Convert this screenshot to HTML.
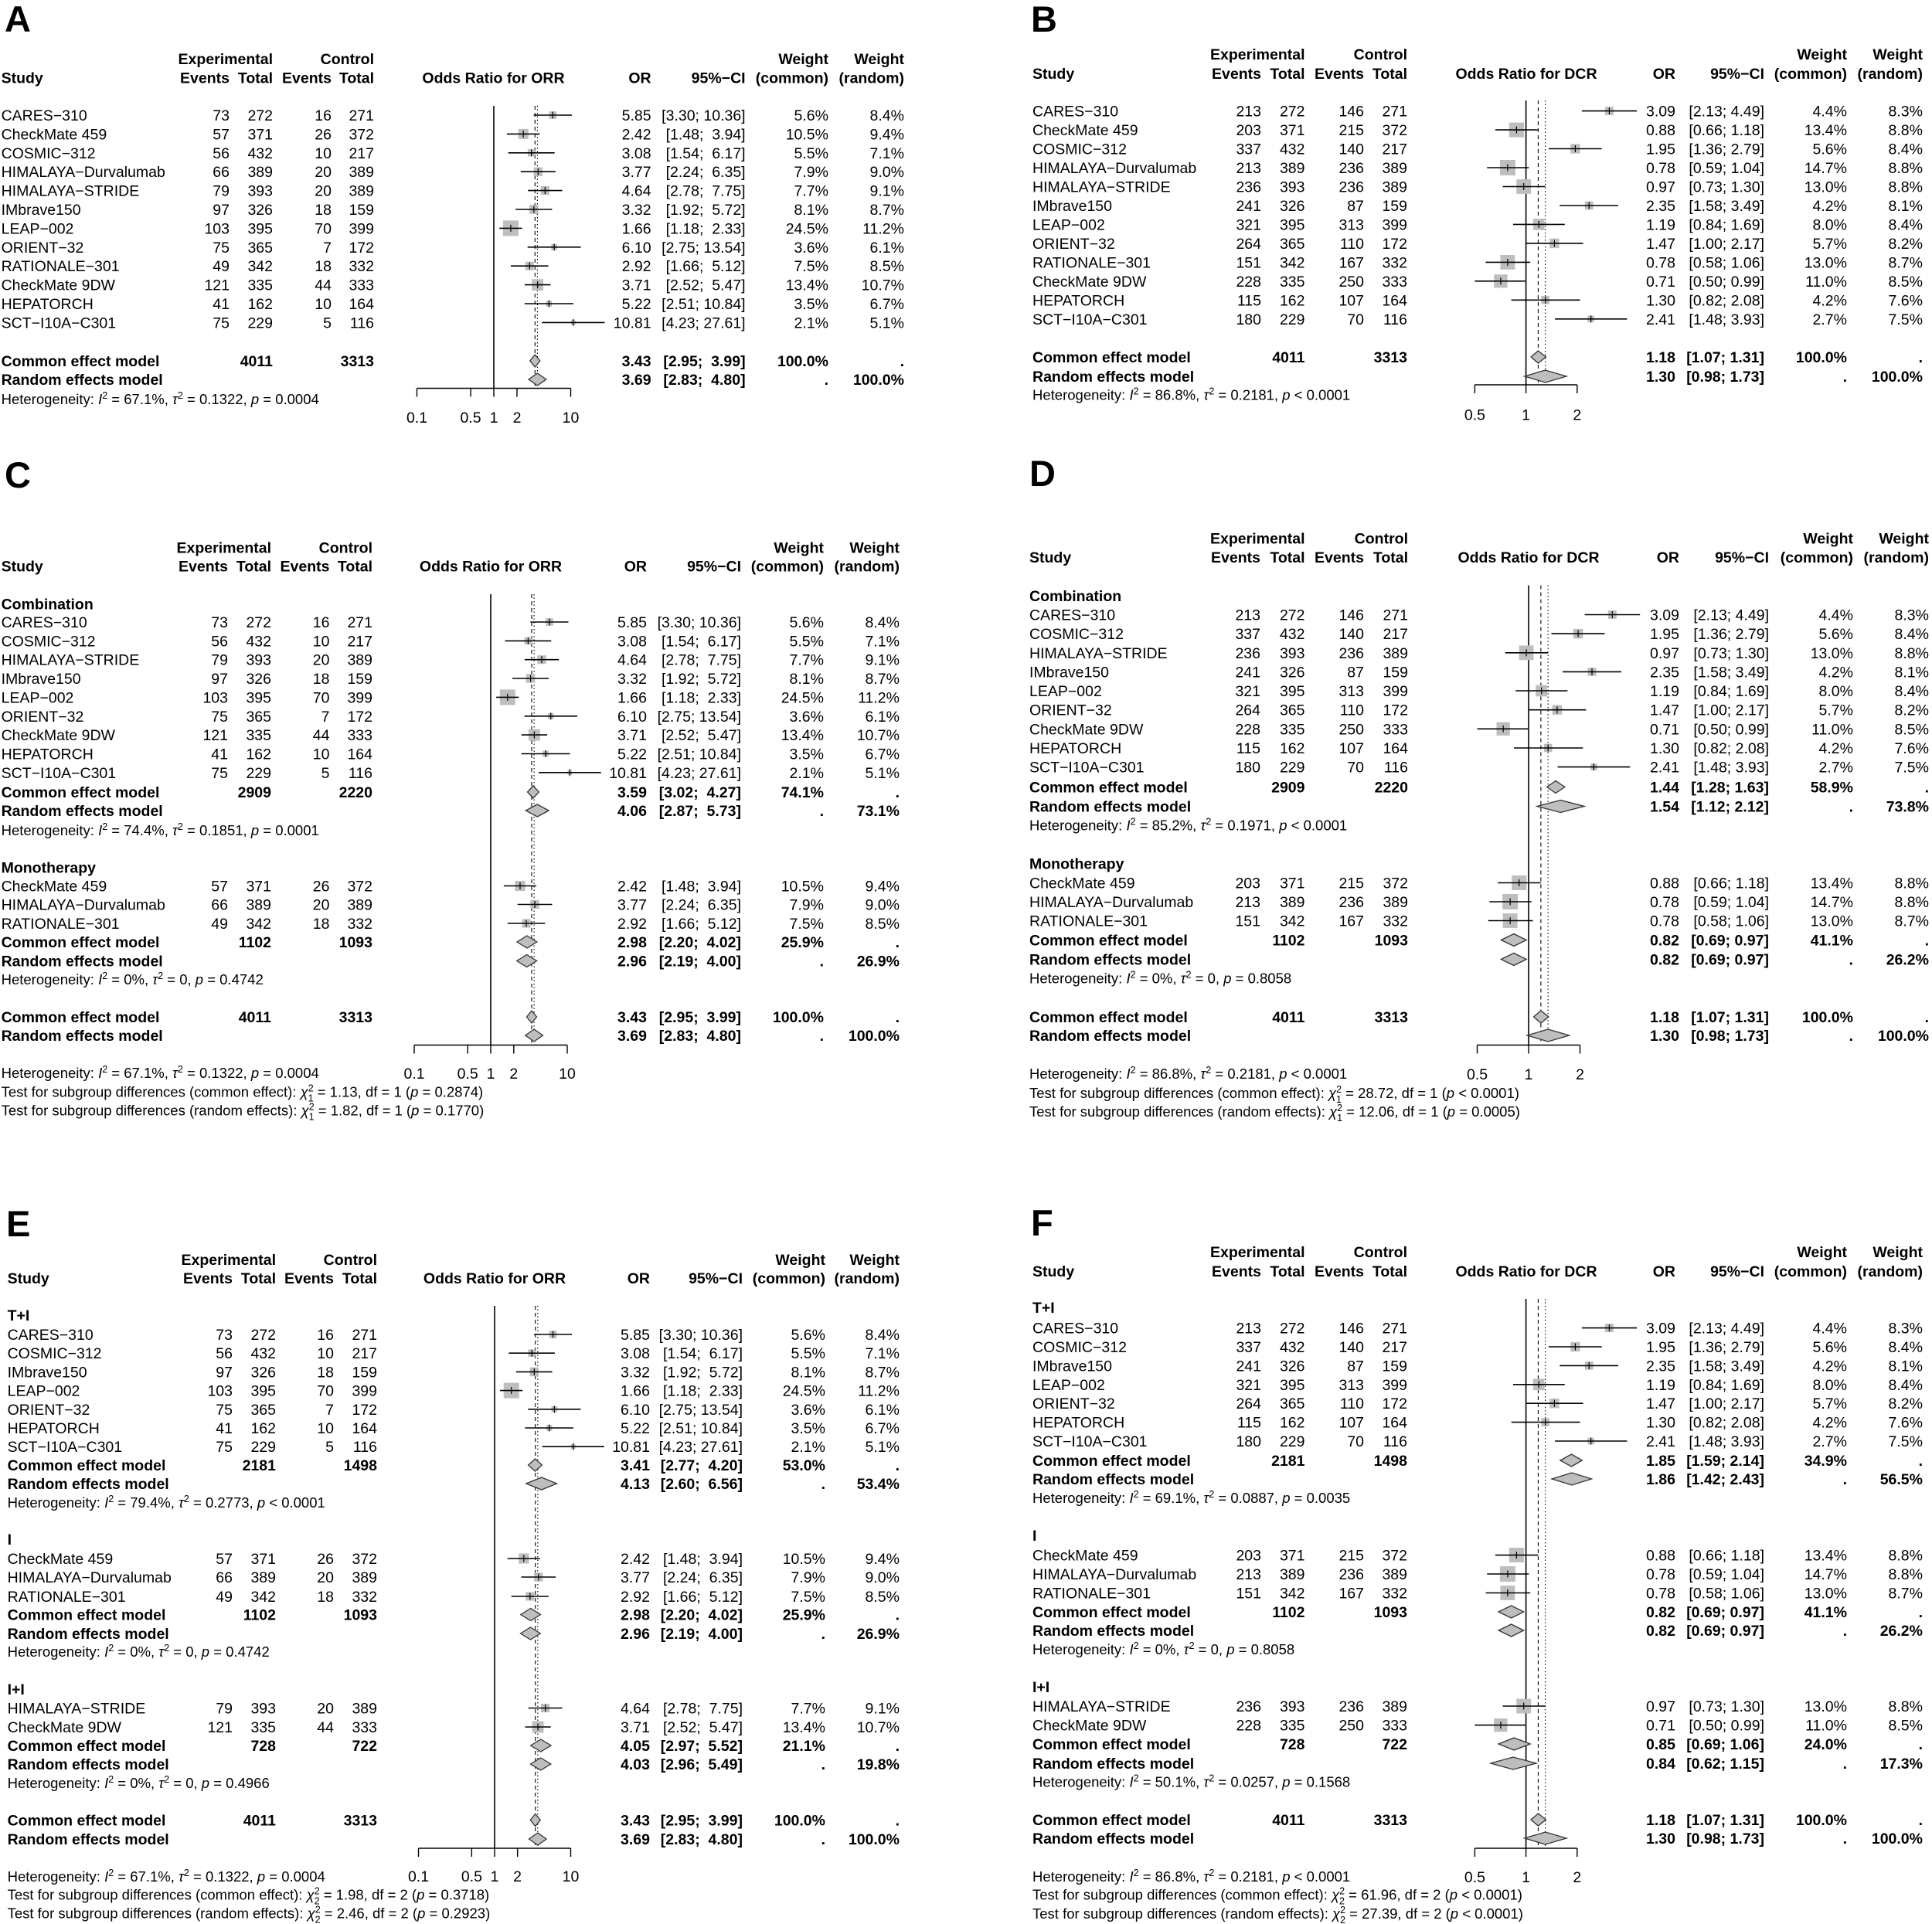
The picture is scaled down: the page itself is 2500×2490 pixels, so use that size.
<!DOCTYPE html>
<html><head><meta charset="utf-8"><style>
html,body{margin:0;padding:0;background:#fff}
svg{display:block}
svg text{font-family:"Liberation Sans",Arial,sans-serif;font-size:19.5px;white-space:pre;fill:#000}
.r{text-anchor:end}.m{text-anchor:middle}.b{font-weight:bold}.s{font-size:18.5px}.L{font-size:47px;font-weight:bold}
.s tspan[font-size]{font-size:12.5px}
</style></head><body>
<svg id="sv" xmlns="http://www.w3.org/2000/svg" width="2500" height="2490" viewBox="0 0 2500 2490">
<rect width="2500" height="2490" fill="#fff"/>
<g id="gfx"></g>

<!-- ================= A ================= -->
<text class="L" x="6" y="41">A</text>
<text class="b r" y="83"><tspan x="353">Experimental</tspan><tspan x="484">Control</tspan><tspan x="1072">Weight</tspan><tspan x="1170">Weight</tspan></text>
<text class="b" x="1.6" y="107.5">Study</text>
<text class="b r" y="107.5"><tspan x="297">Events</tspan><tspan x="353">Total</tspan><tspan x="429">Events</tspan><tspan x="484">Total</tspan><tspan x="842.6">OR</tspan><tspan x="964.6">95%−CI</tspan><tspan x="1072">(common)</tspan><tspan x="1170">(random)</tspan></text>
<text class="b m" x="638.5" y="107.5">Odds Ratio for ORR</text>
<text x="1.6" y="156">CARES−310</text><text class="r" y="156"><tspan x="297">73</tspan><tspan x="353">272</tspan><tspan x="429">16</tspan><tspan x="484">271</tspan><tspan x="842.6">5.85</tspan><tspan x="964.6">[3.30; 10.36]</tspan><tspan x="1072">5.6%</tspan><tspan x="1170">8.4%</tspan></text>
<text x="1.6" y="180.4">CheckMate 459</text><text class="r" y="180.4"><tspan x="297">57</tspan><tspan x="353">371</tspan><tspan x="429">26</tspan><tspan x="484">372</tspan><tspan x="842.6">2.42</tspan><tspan x="964.6">[1.48;  3.94]</tspan><tspan x="1072">10.5%</tspan><tspan x="1170">9.4%</tspan></text>
<text x="1.6" y="204.8">COSMIC−312</text><text class="r" y="204.8"><tspan x="297">56</tspan><tspan x="353">432</tspan><tspan x="429">10</tspan><tspan x="484">217</tspan><tspan x="842.6">3.08</tspan><tspan x="964.6">[1.54;  6.17]</tspan><tspan x="1072">5.5%</tspan><tspan x="1170">7.1%</tspan></text>
<text x="1.6" y="229.2">HIMALAYA−Durvalumab</text><text class="r" y="229.2"><tspan x="297">66</tspan><tspan x="353">389</tspan><tspan x="429">20</tspan><tspan x="484">389</tspan><tspan x="842.6">3.77</tspan><tspan x="964.6">[2.24;  6.35]</tspan><tspan x="1072">7.9%</tspan><tspan x="1170">9.0%</tspan></text>
<text x="1.6" y="253.6">HIMALAYA−STRIDE</text><text class="r" y="253.6"><tspan x="297">79</tspan><tspan x="353">393</tspan><tspan x="429">20</tspan><tspan x="484">389</tspan><tspan x="842.6">4.64</tspan><tspan x="964.6">[2.78;  7.75]</tspan><tspan x="1072">7.7%</tspan><tspan x="1170">9.1%</tspan></text>
<text x="1.6" y="278">IMbrave150</text><text class="r" y="278"><tspan x="297">97</tspan><tspan x="353">326</tspan><tspan x="429">18</tspan><tspan x="484">159</tspan><tspan x="842.6">3.32</tspan><tspan x="964.6">[1.92;  5.72]</tspan><tspan x="1072">8.1%</tspan><tspan x="1170">8.7%</tspan></text>
<text x="1.6" y="302.4">LEAP−002</text><text class="r" y="302.4"><tspan x="297">103</tspan><tspan x="353">395</tspan><tspan x="429">70</tspan><tspan x="484">399</tspan><tspan x="842.6">1.66</tspan><tspan x="964.6">[1.18;  2.33]</tspan><tspan x="1072">24.5%</tspan><tspan x="1170">11.2%</tspan></text>
<text x="1.6" y="326.8">ORIENT−32</text><text class="r" y="326.8"><tspan x="297">75</tspan><tspan x="353">365</tspan><tspan x="429">7</tspan><tspan x="484">172</tspan><tspan x="842.6">6.10</tspan><tspan x="964.6">[2.75; 13.54]</tspan><tspan x="1072">3.6%</tspan><tspan x="1170">6.1%</tspan></text>
<text x="1.6" y="351.2">RATIONALE−301</text><text class="r" y="351.2"><tspan x="297">49</tspan><tspan x="353">342</tspan><tspan x="429">18</tspan><tspan x="484">332</tspan><tspan x="842.6">2.92</tspan><tspan x="964.6">[1.66;  5.12]</tspan><tspan x="1072">7.5%</tspan><tspan x="1170">8.5%</tspan></text>
<text x="1.6" y="375.6">CheckMate 9DW</text><text class="r" y="375.6"><tspan x="297">121</tspan><tspan x="353">335</tspan><tspan x="429">44</tspan><tspan x="484">333</tspan><tspan x="842.6">3.71</tspan><tspan x="964.6">[2.52;  5.47]</tspan><tspan x="1072">13.4%</tspan><tspan x="1170">10.7%</tspan></text>
<text x="1.6" y="400">HEPATORCH</text><text class="r" y="400"><tspan x="297">41</tspan><tspan x="353">162</tspan><tspan x="429">10</tspan><tspan x="484">164</tspan><tspan x="842.6">5.22</tspan><tspan x="964.6">[2.51; 10.84]</tspan><tspan x="1072">3.5%</tspan><tspan x="1170">6.7%</tspan></text>
<text x="1.6" y="424.4">SCT−I10A−C301</text><text class="r" y="424.4"><tspan x="297">75</tspan><tspan x="353">229</tspan><tspan x="429">5</tspan><tspan x="484">116</tspan><tspan x="842.6">10.81</tspan><tspan x="964.6">[4.23; 27.61]</tspan><tspan x="1072">2.1%</tspan><tspan x="1170">5.1%</tspan></text>
<text class="b" x="1.6" y="474">Common effect model</text><text class="b r" y="474"><tspan x="353">4011</tspan><tspan x="484">3313</tspan><tspan x="842.6">3.43</tspan><tspan x="964.6">[2.95;  3.99]</tspan><tspan x="1072">100.0%</tspan><tspan x="1170">.</tspan></text>
<text class="b" x="1.6" y="498">Random effects model</text><text class="b r" y="498"><tspan x="842.6">3.69</tspan><tspan x="964.6">[2.83;  4.80]</tspan><tspan x="1072">.</tspan><tspan x="1170">100.0%</tspan></text>
<text class="s" x="1.6" y="523">Heterogeneity: <tspan font-style="italic">I</tspan><tspan dy="-7" font-size="11">2</tspan><tspan dy="7"> = 67.1%, </tspan><tspan font-style="italic">τ</tspan><tspan dy="-7" font-size="11">2</tspan><tspan dy="7"> = 0.1322, </tspan><tspan font-style="italic">p</tspan> = 0.0004</text>
<text class="m" y="547"><tspan x="539.5">0.1</tspan><tspan x="609">0.5</tspan><tspan x="639">1</tspan><tspan x="669">2</tspan><tspan x="738.5">10</tspan></text>

<!-- ================= B ================= -->
<text class="L" x="1334" y="41">B</text>
<text class="b r" y="77"><tspan x="1688.5">Experimental</tspan><tspan x="1821">Control</tspan><tspan x="2390">Weight</tspan><tspan x="2488">Weight</tspan></text>
<text class="b" x="1336" y="102">Study</text>
<text class="b r" y="102"><tspan x="1632">Events</tspan><tspan x="1688.5">Total</tspan><tspan x="1765">Events</tspan><tspan x="1821">Total</tspan><tspan x="2168">OR</tspan><tspan x="2283">95%−CI</tspan><tspan x="2390">(common)</tspan><tspan x="2488">(random)</tspan></text>
<text class="b m" x="1975" y="102">Odds Ratio for DCR</text>
<text x="1336" y="150.6">CARES−310</text><text class="r" y="150.6"><tspan x="1632">213</tspan><tspan x="1688.5">272</tspan><tspan x="1765">146</tspan><tspan x="1821">271</tspan><tspan x="2168">3.09</tspan><tspan x="2283">[2.13; 4.49]</tspan><tspan x="2390">4.4%</tspan><tspan x="2488">8.3%</tspan></text>
<text x="1336" y="175.1">CheckMate 459</text><text class="r" y="175.1"><tspan x="1632">203</tspan><tspan x="1688.5">371</tspan><tspan x="1765">215</tspan><tspan x="1821">372</tspan><tspan x="2168">0.88</tspan><tspan x="2283">[0.66; 1.18]</tspan><tspan x="2390">13.4%</tspan><tspan x="2488">8.8%</tspan></text>
<text x="1336" y="199.5">COSMIC−312</text><text class="r" y="199.5"><tspan x="1632">337</tspan><tspan x="1688.5">432</tspan><tspan x="1765">140</tspan><tspan x="1821">217</tspan><tspan x="2168">1.95</tspan><tspan x="2283">[1.36; 2.79]</tspan><tspan x="2390">5.6%</tspan><tspan x="2488">8.4%</tspan></text>
<text x="1336" y="224">HIMALAYA−Durvalumab</text><text class="r" y="224"><tspan x="1632">213</tspan><tspan x="1688.5">389</tspan><tspan x="1765">236</tspan><tspan x="1821">389</tspan><tspan x="2168">0.78</tspan><tspan x="2283">[0.59; 1.04]</tspan><tspan x="2390">14.7%</tspan><tspan x="2488">8.8%</tspan></text>
<text x="1336" y="248.5">HIMALAYA−STRIDE</text><text class="r" y="248.5"><tspan x="1632">236</tspan><tspan x="1688.5">393</tspan><tspan x="1765">236</tspan><tspan x="1821">389</tspan><tspan x="2168">0.97</tspan><tspan x="2283">[0.73; 1.30]</tspan><tspan x="2390">13.0%</tspan><tspan x="2488">8.8%</tspan></text>
<text x="1336" y="273">IMbrave150</text><text class="r" y="273"><tspan x="1632">241</tspan><tspan x="1688.5">326</tspan><tspan x="1765">87</tspan><tspan x="1821">159</tspan><tspan x="2168">2.35</tspan><tspan x="2283">[1.58; 3.49]</tspan><tspan x="2390">4.2%</tspan><tspan x="2488">8.1%</tspan></text>
<text x="1336" y="297.4">LEAP−002</text><text class="r" y="297.4"><tspan x="1632">321</tspan><tspan x="1688.5">395</tspan><tspan x="1765">313</tspan><tspan x="1821">399</tspan><tspan x="2168">1.19</tspan><tspan x="2283">[0.84; 1.69]</tspan><tspan x="2390">8.0%</tspan><tspan x="2488">8.4%</tspan></text>
<text x="1336" y="321.9">ORIENT−32</text><text class="r" y="321.9"><tspan x="1632">264</tspan><tspan x="1688.5">365</tspan><tspan x="1765">110</tspan><tspan x="1821">172</tspan><tspan x="2168">1.47</tspan><tspan x="2283">[1.00; 2.17]</tspan><tspan x="2390">5.7%</tspan><tspan x="2488">8.2%</tspan></text>
<text x="1336" y="346.4">RATIONALE−301</text><text class="r" y="346.4"><tspan x="1632">151</tspan><tspan x="1688.5">342</tspan><tspan x="1765">167</tspan><tspan x="1821">332</tspan><tspan x="2168">0.78</tspan><tspan x="2283">[0.58; 1.06]</tspan><tspan x="2390">13.0%</tspan><tspan x="2488">8.7%</tspan></text>
<text x="1336" y="370.8">CheckMate 9DW</text><text class="r" y="370.8"><tspan x="1632">228</tspan><tspan x="1688.5">335</tspan><tspan x="1765">250</tspan><tspan x="1821">333</tspan><tspan x="2168">0.71</tspan><tspan x="2283">[0.50; 0.99]</tspan><tspan x="2390">11.0%</tspan><tspan x="2488">8.5%</tspan></text>
<text x="1336" y="395.3">HEPATORCH</text><text class="r" y="395.3"><tspan x="1632">115</tspan><tspan x="1688.5">162</tspan><tspan x="1765">107</tspan><tspan x="1821">164</tspan><tspan x="2168">1.30</tspan><tspan x="2283">[0.82; 2.08]</tspan><tspan x="2390">4.2%</tspan><tspan x="2488">7.6%</tspan></text>
<text x="1336" y="419.8">SCT−I10A−C301</text><text class="r" y="419.8"><tspan x="1632">180</tspan><tspan x="1688.5">229</tspan><tspan x="1765">70</tspan><tspan x="1821">116</tspan><tspan x="2168">2.41</tspan><tspan x="2283">[1.48; 3.93]</tspan><tspan x="2390">2.7%</tspan><tspan x="2488">7.5%</tspan></text>
<text class="b" x="1336" y="469">Common effect model</text><text class="b r" y="469"><tspan x="1688.5">4011</tspan><tspan x="1821">3313</tspan><tspan x="2168">1.18</tspan><tspan x="2283">[1.07; 1.31]</tspan><tspan x="2390">100.0%</tspan><tspan x="2488">.</tspan></text>
<text class="b" x="1336" y="494">Random effects model</text><text class="b r" y="494"><tspan x="2168">1.30</tspan><tspan x="2283">[0.98; 1.73]</tspan><tspan x="2390">.</tspan><tspan x="2488">100.0%</tspan></text>
<text class="s" x="1336" y="517.5">Heterogeneity: <tspan font-style="italic">I</tspan><tspan dy="-7" font-size="11">2</tspan><tspan dy="7"> = 86.8%, </tspan><tspan font-style="italic">τ</tspan><tspan dy="-7" font-size="11">2</tspan><tspan dy="7"> = 0.2181, </tspan><tspan font-style="italic">p</tspan> &lt; 0.0001</text>
<text class="m" y="543.6"><tspan x="1908.4">0.5</tspan><tspan x="1974.6">1</tspan><tspan x="2040.8">2</tspan></text>

<!-- ================= C ================= -->
<text class="L" x="6" y="631">C</text>
<text class="b r" y="715.5"><tspan x="351">Experimental</tspan><tspan x="482">Control</tspan><tspan x="1066">Weight</tspan><tspan x="1164">Weight</tspan></text>
<text class="b" x="1.6" y="739.5">Study</text>
<text class="b r" y="739.5"><tspan x="295">Events</tspan><tspan x="351">Total</tspan><tspan x="426.5">Events</tspan><tspan x="482">Total</tspan><tspan x="837">OR</tspan><tspan x="959">95%−CI</tspan><tspan x="1066">(common)</tspan><tspan x="1164">(random)</tspan></text>
<text class="b m" x="635" y="739.5">Odds Ratio for ORR</text>
<text class="b" x="1.6" y="788.5">Combination</text>
<text x="1.6" y="812">CARES−310</text><text class="r" y="812"><tspan x="295">73</tspan><tspan x="351">272</tspan><tspan x="426.5">16</tspan><tspan x="482">271</tspan><tspan x="837">5.85</tspan><tspan x="959">[3.30; 10.36]</tspan><tspan x="1066">5.6%</tspan><tspan x="1164">8.4%</tspan></text>
<text x="1.6" y="836.4">COSMIC−312</text><text class="r" y="836.4"><tspan x="295">56</tspan><tspan x="351">432</tspan><tspan x="426.5">10</tspan><tspan x="482">217</tspan><tspan x="837">3.08</tspan><tspan x="959">[1.54;  6.17]</tspan><tspan x="1066">5.5%</tspan><tspan x="1164">7.1%</tspan></text>
<text x="1.6" y="860.7">HIMALAYA−STRIDE</text><text class="r" y="860.7"><tspan x="295">79</tspan><tspan x="351">393</tspan><tspan x="426.5">20</tspan><tspan x="482">389</tspan><tspan x="837">4.64</tspan><tspan x="959">[2.78;  7.75]</tspan><tspan x="1066">7.7%</tspan><tspan x="1164">9.1%</tspan></text>
<text x="1.6" y="885">IMbrave150</text><text class="r" y="885"><tspan x="295">97</tspan><tspan x="351">326</tspan><tspan x="426.5">18</tspan><tspan x="482">159</tspan><tspan x="837">3.32</tspan><tspan x="959">[1.92;  5.72]</tspan><tspan x="1066">8.1%</tspan><tspan x="1164">8.7%</tspan></text>
<text x="1.6" y="909.4">LEAP−002</text><text class="r" y="909.4"><tspan x="295">103</tspan><tspan x="351">395</tspan><tspan x="426.5">70</tspan><tspan x="482">399</tspan><tspan x="837">1.66</tspan><tspan x="959">[1.18;  2.33]</tspan><tspan x="1066">24.5%</tspan><tspan x="1164">11.2%</tspan></text>
<text x="1.6" y="933.8">ORIENT−32</text><text class="r" y="933.8"><tspan x="295">75</tspan><tspan x="351">365</tspan><tspan x="426.5">7</tspan><tspan x="482">172</tspan><tspan x="837">6.10</tspan><tspan x="959">[2.75; 13.54]</tspan><tspan x="1066">3.6%</tspan><tspan x="1164">6.1%</tspan></text>
<text x="1.6" y="958.1">CheckMate 9DW</text><text class="r" y="958.1"><tspan x="295">121</tspan><tspan x="351">335</tspan><tspan x="426.5">44</tspan><tspan x="482">333</tspan><tspan x="837">3.71</tspan><tspan x="959">[2.52;  5.47]</tspan><tspan x="1066">13.4%</tspan><tspan x="1164">10.7%</tspan></text>
<text x="1.6" y="982.5">HEPATORCH</text><text class="r" y="982.5"><tspan x="295">41</tspan><tspan x="351">162</tspan><tspan x="426.5">10</tspan><tspan x="482">164</tspan><tspan x="837">5.22</tspan><tspan x="959">[2.51; 10.84]</tspan><tspan x="1066">3.5%</tspan><tspan x="1164">6.7%</tspan></text>
<text x="1.6" y="1006.8">SCT−I10A−C301</text><text class="r" y="1006.8"><tspan x="295">75</tspan><tspan x="351">229</tspan><tspan x="426.5">5</tspan><tspan x="482">116</tspan><tspan x="837">10.81</tspan><tspan x="959">[4.23; 27.61]</tspan><tspan x="1066">2.1%</tspan><tspan x="1164">5.1%</tspan></text>
<text class="b" x="1.6" y="1032">Common effect model</text><text class="b r" y="1032"><tspan x="351">2909</tspan><tspan x="482">2220</tspan><tspan x="837">3.59</tspan><tspan x="959">[3.02;  4.27]</tspan><tspan x="1066">74.1%</tspan><tspan x="1164">.</tspan></text>
<text class="b" x="1.6" y="1056">Random effects model</text><text class="b r" y="1056"><tspan x="837">4.06</tspan><tspan x="959">[2.87;  5.73]</tspan><tspan x="1066">.</tspan><tspan x="1164">73.1%</tspan></text>
<text class="s" x="1.6" y="1081">Heterogeneity: <tspan font-style="italic">I</tspan><tspan dy="-7" font-size="11">2</tspan><tspan dy="7"> = 74.4%, </tspan><tspan font-style="italic">τ</tspan><tspan dy="-7" font-size="11">2</tspan><tspan dy="7"> = 0.1851, </tspan><tspan font-style="italic">p</tspan> = 0.0001</text>
<text class="b" x="1.6" y="1129.5">Monotherapy</text>
<text x="1.6" y="1153.5">CheckMate 459</text><text class="r" y="1153.5"><tspan x="295">57</tspan><tspan x="351">371</tspan><tspan x="426.5">26</tspan><tspan x="482">372</tspan><tspan x="837">2.42</tspan><tspan x="959">[1.48;  3.94]</tspan><tspan x="1066">10.5%</tspan><tspan x="1164">9.4%</tspan></text>
<text x="1.6" y="1177.5">HIMALAYA−Durvalumab</text><text class="r" y="1177.5"><tspan x="295">66</tspan><tspan x="351">389</tspan><tspan x="426.5">20</tspan><tspan x="482">389</tspan><tspan x="837">3.77</tspan><tspan x="959">[2.24;  6.35]</tspan><tspan x="1066">7.9%</tspan><tspan x="1164">9.0%</tspan></text>
<text x="1.6" y="1202">RATIONALE−301</text><text class="r" y="1202"><tspan x="295">49</tspan><tspan x="351">342</tspan><tspan x="426.5">18</tspan><tspan x="482">332</tspan><tspan x="837">2.92</tspan><tspan x="959">[1.66;  5.12]</tspan><tspan x="1066">7.5%</tspan><tspan x="1164">8.5%</tspan></text>
<text class="b" x="1.6" y="1226">Common effect model</text><text class="b r" y="1226"><tspan x="351">1102</tspan><tspan x="482">1093</tspan><tspan x="837">2.98</tspan><tspan x="959">[2.20;  4.02]</tspan><tspan x="1066">25.9%</tspan><tspan x="1164">.</tspan></text>
<text class="b" x="1.6" y="1250.5">Random effects model</text><text class="b r" y="1250.5"><tspan x="837">2.96</tspan><tspan x="959">[2.19;  4.00]</tspan><tspan x="1066">.</tspan><tspan x="1164">26.9%</tspan></text>
<text class="s" x="1.6" y="1274">Heterogeneity: <tspan font-style="italic">I</tspan><tspan dy="-7" font-size="11">2</tspan><tspan dy="7"> = 0%, </tspan><tspan font-style="italic">τ</tspan><tspan dy="-7" font-size="11">2</tspan><tspan dy="7"> = 0, </tspan><tspan font-style="italic">p</tspan> = 0.4742</text>
<text class="b" x="1.6" y="1323">Common effect model</text><text class="b r" y="1323"><tspan x="351">4011</tspan><tspan x="482">3313</tspan><tspan x="837">3.43</tspan><tspan x="959">[2.95;  3.99]</tspan><tspan x="1066">100.0%</tspan><tspan x="1164">.</tspan></text>
<text class="b" x="1.6" y="1347">Random effects model</text><text class="b r" y="1347"><tspan x="837">3.69</tspan><tspan x="959">[2.83;  4.80]</tspan><tspan x="1066">.</tspan><tspan x="1164">100.0%</tspan></text>
<text class="m" y="1396"><tspan x="536">0.1</tspan><tspan x="605.2">0.5</tspan><tspan x="635">1</tspan><tspan x="664.8">2</tspan><tspan x="734">10</tspan></text>
<text class="s" x="1.6" y="1395">Heterogeneity: <tspan font-style="italic">I</tspan><tspan dy="-7" font-size="11">2</tspan><tspan dy="7"> = 67.1%, </tspan><tspan font-style="italic">τ</tspan><tspan dy="-7" font-size="11">2</tspan><tspan dy="7"> = 0.1322, </tspan><tspan font-style="italic">p</tspan> = 0.0004</text>
<text class="s" x="1.6" y="1419.5">Test for subgroup differences (common effect): <tspan font-style="italic">χ</tspan><tspan dy="-7" font-size="11">2</tspan><tspan dx="-7" dy="13" font-size="11">1</tspan><tspan dy="-6"> = 1.13, df = 1 (</tspan><tspan font-style="italic">p</tspan> = 0.2874)</text>
<text class="s" x="1.6" y="1443.5">Test for subgroup differences (random effects): <tspan font-style="italic">χ</tspan><tspan dy="-7" font-size="11">2</tspan><tspan dx="-7" dy="13" font-size="11">1</tspan><tspan dy="-6"> = 1.82, df = 1 (</tspan><tspan font-style="italic">p</tspan> = 0.1770)</text>

<!-- ================= D ================= -->
<text class="L" x="1332" y="629">D</text>
<text class="b r" y="703.5"><tspan x="1688.5">Experimental</tspan><tspan x="1822">Control</tspan><tspan x="2398">Weight</tspan><tspan x="2496">Weight</tspan></text>
<text class="b" x="1332" y="728">Study</text>
<text class="b r" y="728"><tspan x="1631">Events</tspan><tspan x="1688.5">Total</tspan><tspan x="1765">Events</tspan><tspan x="1822">Total</tspan><tspan x="2173">OR</tspan><tspan x="2289">95%−CI</tspan><tspan x="2398">(common)</tspan><tspan x="2496">(random)</tspan></text>
<text class="b m" x="1978" y="728">Odds Ratio for DCR</text>
<text class="b" x="1332" y="778">Combination</text>
<text x="1332" y="802.5">CARES−310</text><text class="r" y="802.5"><tspan x="1631">213</tspan><tspan x="1688.5">272</tspan><tspan x="1765">146</tspan><tspan x="1822">271</tspan><tspan x="2173">3.09</tspan><tspan x="2289">[2.13; 4.49]</tspan><tspan x="2398">4.4%</tspan><tspan x="2496">8.3%</tspan></text>
<text x="1332" y="827.1">COSMIC−312</text><text class="r" y="827.1"><tspan x="1631">337</tspan><tspan x="1688.5">432</tspan><tspan x="1765">140</tspan><tspan x="1822">217</tspan><tspan x="2173">1.95</tspan><tspan x="2289">[1.36; 2.79]</tspan><tspan x="2398">5.6%</tspan><tspan x="2496">8.4%</tspan></text>
<text x="1332" y="851.8">HIMALAYA−STRIDE</text><text class="r" y="851.8"><tspan x="1631">236</tspan><tspan x="1688.5">393</tspan><tspan x="1765">236</tspan><tspan x="1822">389</tspan><tspan x="2173">0.97</tspan><tspan x="2289">[0.73; 1.30]</tspan><tspan x="2398">13.0%</tspan><tspan x="2496">8.8%</tspan></text>
<text x="1332" y="876.4">IMbrave150</text><text class="r" y="876.4"><tspan x="1631">241</tspan><tspan x="1688.5">326</tspan><tspan x="1765">87</tspan><tspan x="1822">159</tspan><tspan x="2173">2.35</tspan><tspan x="2289">[1.58; 3.49]</tspan><tspan x="2398">4.2%</tspan><tspan x="2496">8.1%</tspan></text>
<text x="1332" y="901">LEAP−002</text><text class="r" y="901"><tspan x="1631">321</tspan><tspan x="1688.5">395</tspan><tspan x="1765">313</tspan><tspan x="1822">399</tspan><tspan x="2173">1.19</tspan><tspan x="2289">[0.84; 1.69]</tspan><tspan x="2398">8.0%</tspan><tspan x="2496">8.4%</tspan></text>
<text x="1332" y="925.7">ORIENT−32</text><text class="r" y="925.7"><tspan x="1631">264</tspan><tspan x="1688.5">365</tspan><tspan x="1765">110</tspan><tspan x="1822">172</tspan><tspan x="2173">1.47</tspan><tspan x="2289">[1.00; 2.17]</tspan><tspan x="2398">5.7%</tspan><tspan x="2496">8.2%</tspan></text>
<text x="1332" y="950.3">CheckMate 9DW</text><text class="r" y="950.3"><tspan x="1631">228</tspan><tspan x="1688.5">335</tspan><tspan x="1765">250</tspan><tspan x="1822">333</tspan><tspan x="2173">0.71</tspan><tspan x="2289">[0.50; 0.99]</tspan><tspan x="2398">11.0%</tspan><tspan x="2496">8.5%</tspan></text>
<text x="1332" y="975">HEPATORCH</text><text class="r" y="975"><tspan x="1631">115</tspan><tspan x="1688.5">162</tspan><tspan x="1765">107</tspan><tspan x="1822">164</tspan><tspan x="2173">1.30</tspan><tspan x="2289">[0.82; 2.08]</tspan><tspan x="2398">4.2%</tspan><tspan x="2496">7.6%</tspan></text>
<text x="1332" y="999.6">SCT−I10A−C301</text><text class="r" y="999.6"><tspan x="1631">180</tspan><tspan x="1688.5">229</tspan><tspan x="1765">70</tspan><tspan x="1822">116</tspan><tspan x="2173">2.41</tspan><tspan x="2289">[1.48; 3.93]</tspan><tspan x="2398">2.7%</tspan><tspan x="2496">7.5%</tspan></text>
<text class="b" x="1332" y="1025.5">Common effect model</text><text class="b r" y="1025.5"><tspan x="1688.5">2909</tspan><tspan x="1822">2220</tspan><tspan x="2173">1.44</tspan><tspan x="2289">[1.28; 1.63]</tspan><tspan x="2398">58.9%</tspan><tspan x="2496">.</tspan></text>
<text class="b" x="1332" y="1050.5">Random effects model</text><text class="b r" y="1050.5"><tspan x="2173">1.54</tspan><tspan x="2289">[1.12; 2.12]</tspan><tspan x="2398">.</tspan><tspan x="2496">73.8%</tspan></text>
<text class="s" x="1332" y="1074.5">Heterogeneity: <tspan font-style="italic">I</tspan><tspan dy="-7" font-size="11">2</tspan><tspan dy="7"> = 85.2%, </tspan><tspan font-style="italic">τ</tspan><tspan dy="-7" font-size="11">2</tspan><tspan dy="7"> = 0.1971, </tspan><tspan font-style="italic">p</tspan> &lt; 0.0001</text>
<text class="b" x="1332" y="1124.5">Monotherapy</text>
<text x="1332" y="1149.5">CheckMate 459</text><text class="r" y="1149.5"><tspan x="1631">203</tspan><tspan x="1688.5">371</tspan><tspan x="1765">215</tspan><tspan x="1822">372</tspan><tspan x="2173">0.88</tspan><tspan x="2289">[0.66; 1.18]</tspan><tspan x="2398">13.4%</tspan><tspan x="2496">8.8%</tspan></text>
<text x="1332" y="1174">HIMALAYA−Durvalumab</text><text class="r" y="1174"><tspan x="1631">213</tspan><tspan x="1688.5">389</tspan><tspan x="1765">236</tspan><tspan x="1822">389</tspan><tspan x="2173">0.78</tspan><tspan x="2289">[0.59; 1.04]</tspan><tspan x="2398">14.7%</tspan><tspan x="2496">8.8%</tspan></text>
<text x="1332" y="1198.5">RATIONALE−301</text><text class="r" y="1198.5"><tspan x="1631">151</tspan><tspan x="1688.5">342</tspan><tspan x="1765">167</tspan><tspan x="1822">332</tspan><tspan x="2173">0.78</tspan><tspan x="2289">[0.58; 1.06]</tspan><tspan x="2398">13.0%</tspan><tspan x="2496">8.7%</tspan></text>
<text class="b" x="1332" y="1223.5">Common effect model</text><text class="b r" y="1223.5"><tspan x="1688.5">1102</tspan><tspan x="1822">1093</tspan><tspan x="2173">0.82</tspan><tspan x="2289">[0.69; 0.97]</tspan><tspan x="2398">41.1%</tspan><tspan x="2496">.</tspan></text>
<text class="b" x="1332" y="1248.5">Random effects model</text><text class="b r" y="1248.5"><tspan x="2173">0.82</tspan><tspan x="2289">[0.69; 0.97]</tspan><tspan x="2398">.</tspan><tspan x="2496">26.2%</tspan></text>
<text class="s" x="1332" y="1272.5">Heterogeneity: <tspan font-style="italic">I</tspan><tspan dy="-7" font-size="11">2</tspan><tspan dy="7"> = 0%, </tspan><tspan font-style="italic">τ</tspan><tspan dy="-7" font-size="11">2</tspan><tspan dy="7"> = 0, </tspan><tspan font-style="italic">p</tspan> = 0.8058</text>
<text class="b" x="1332" y="1323">Common effect model</text><text class="b r" y="1323"><tspan x="1688.5">4011</tspan><tspan x="1822">3313</tspan><tspan x="2173">1.18</tspan><tspan x="2289">[1.07; 1.31]</tspan><tspan x="2398">100.0%</tspan><tspan x="2496">.</tspan></text>
<text class="b" x="1332" y="1347">Random effects model</text><text class="b r" y="1347"><tspan x="2173">1.30</tspan><tspan x="2289">[0.98; 1.73]</tspan><tspan x="2398">.</tspan><tspan x="2496">100.0%</tspan></text>
<text class="m" y="1397"><tspan x="1911.5">0.5</tspan><tspan x="1978">1</tspan><tspan x="2044.5">2</tspan></text>
<text class="s" x="1332" y="1396">Heterogeneity: <tspan font-style="italic">I</tspan><tspan dy="-7" font-size="11">2</tspan><tspan dy="7"> = 86.8%, </tspan><tspan font-style="italic">τ</tspan><tspan dy="-7" font-size="11">2</tspan><tspan dy="7"> = 0.2181, </tspan><tspan font-style="italic">p</tspan> &lt; 0.0001</text>
<text class="s" x="1332" y="1421">Test for subgroup differences (common effect): <tspan font-style="italic">χ</tspan><tspan dy="-7" font-size="11">2</tspan><tspan dx="-7" dy="13" font-size="11">1</tspan><tspan dy="-6"> = 28.72, df = 1 (</tspan><tspan font-style="italic">p</tspan> &lt; 0.0001)</text>
<text class="s" x="1332" y="1445">Test for subgroup differences (random effects): <tspan font-style="italic">χ</tspan><tspan dy="-7" font-size="11">2</tspan><tspan dx="-7" dy="13" font-size="11">1</tspan><tspan dy="-6"> = 12.06, df = 1 (</tspan><tspan font-style="italic">p</tspan> = 0.0005)</text>

<!-- ================= E ================= -->
<text class="L" x="8" y="1600">E</text>
<text class="b r" y="1637"><tspan x="357">Experimental</tspan><tspan x="488">Control</tspan><tspan x="1068">Weight</tspan><tspan x="1164">Weight</tspan></text>
<text class="b" x="9.6" y="1661">Study</text>
<text class="b r" y="1661"><tspan x="301">Events</tspan><tspan x="357">Total</tspan><tspan x="432">Events</tspan><tspan x="488">Total</tspan><tspan x="841">OR</tspan><tspan x="961">95%−CI</tspan><tspan x="1068">(common)</tspan><tspan x="1164">(random)</tspan></text>
<text class="b m" x="640" y="1661">Odds Ratio for ORR</text>
<text class="b" x="9.6" y="1709">T+I</text>
<text x="9.6" y="1734">CARES−310</text><text class="r" y="1734"><tspan x="301">73</tspan><tspan x="357">272</tspan><tspan x="432">16</tspan><tspan x="488">271</tspan><tspan x="841">5.85</tspan><tspan x="961">[3.30; 10.36]</tspan><tspan x="1068">5.6%</tspan><tspan x="1164">8.4%</tspan></text>
<text x="9.6" y="1758.2">COSMIC−312</text><text class="r" y="1758.2"><tspan x="301">56</tspan><tspan x="357">432</tspan><tspan x="432">10</tspan><tspan x="488">217</tspan><tspan x="841">3.08</tspan><tspan x="961">[1.54;  6.17]</tspan><tspan x="1068">5.5%</tspan><tspan x="1164">7.1%</tspan></text>
<text x="9.6" y="1782.4">IMbrave150</text><text class="r" y="1782.4"><tspan x="301">97</tspan><tspan x="357">326</tspan><tspan x="432">18</tspan><tspan x="488">159</tspan><tspan x="841">3.32</tspan><tspan x="961">[1.92;  5.72]</tspan><tspan x="1068">8.1%</tspan><tspan x="1164">8.7%</tspan></text>
<text x="9.6" y="1806.6">LEAP−002</text><text class="r" y="1806.6"><tspan x="301">103</tspan><tspan x="357">395</tspan><tspan x="432">70</tspan><tspan x="488">399</tspan><tspan x="841">1.66</tspan><tspan x="961">[1.18;  2.33]</tspan><tspan x="1068">24.5%</tspan><tspan x="1164">11.2%</tspan></text>
<text x="9.6" y="1830.8">ORIENT−32</text><text class="r" y="1830.8"><tspan x="301">75</tspan><tspan x="357">365</tspan><tspan x="432">7</tspan><tspan x="488">172</tspan><tspan x="841">6.10</tspan><tspan x="961">[2.75; 13.54]</tspan><tspan x="1068">3.6%</tspan><tspan x="1164">6.1%</tspan></text>
<text x="9.6" y="1855">HEPATORCH</text><text class="r" y="1855"><tspan x="301">41</tspan><tspan x="357">162</tspan><tspan x="432">10</tspan><tspan x="488">164</tspan><tspan x="841">5.22</tspan><tspan x="961">[2.51; 10.84]</tspan><tspan x="1068">3.5%</tspan><tspan x="1164">6.7%</tspan></text>
<text x="9.6" y="1879.2">SCT−I10A−C301</text><text class="r" y="1879.2"><tspan x="301">75</tspan><tspan x="357">229</tspan><tspan x="432">5</tspan><tspan x="488">116</tspan><tspan x="841">10.81</tspan><tspan x="961">[4.23; 27.61]</tspan><tspan x="1068">2.1%</tspan><tspan x="1164">5.1%</tspan></text>
<text class="b" x="9.6" y="1903">Common effect model</text><text class="b r" y="1903"><tspan x="357">2181</tspan><tspan x="488">1498</tspan><tspan x="841">3.41</tspan><tspan x="961">[2.77;  4.20]</tspan><tspan x="1068">53.0%</tspan><tspan x="1164">.</tspan></text>
<text class="b" x="9.6" y="1927">Random effects model</text><text class="b r" y="1927"><tspan x="841">4.13</tspan><tspan x="961">[2.60;  6.56]</tspan><tspan x="1068">.</tspan><tspan x="1164">53.4%</tspan></text>
<text class="s" x="9.6" y="1951">Heterogeneity: <tspan font-style="italic">I</tspan><tspan dy="-7" font-size="11">2</tspan><tspan dy="7"> = 79.4%, </tspan><tspan font-style="italic">τ</tspan><tspan dy="-7" font-size="11">2</tspan><tspan dy="7"> = 0.2773, </tspan><tspan font-style="italic">p</tspan> &lt; 0.0001</text>
<text class="b" x="9.6" y="1999">I</text>
<text x="9.6" y="2024">CheckMate 459</text><text class="r" y="2024"><tspan x="301">57</tspan><tspan x="357">371</tspan><tspan x="432">26</tspan><tspan x="488">372</tspan><tspan x="841">2.42</tspan><tspan x="961">[1.48;  3.94]</tspan><tspan x="1068">10.5%</tspan><tspan x="1164">9.4%</tspan></text>
<text x="9.6" y="2048">HIMALAYA−Durvalumab</text><text class="r" y="2048"><tspan x="301">66</tspan><tspan x="357">389</tspan><tspan x="432">20</tspan><tspan x="488">389</tspan><tspan x="841">3.77</tspan><tspan x="961">[2.24;  6.35]</tspan><tspan x="1068">7.9%</tspan><tspan x="1164">9.0%</tspan></text>
<text x="9.6" y="2073">RATIONALE−301</text><text class="r" y="2073"><tspan x="301">49</tspan><tspan x="357">342</tspan><tspan x="432">18</tspan><tspan x="488">332</tspan><tspan x="841">2.92</tspan><tspan x="961">[1.66;  5.12]</tspan><tspan x="1068">7.5%</tspan><tspan x="1164">8.5%</tspan></text>
<text class="b" x="9.6" y="2096.5">Common effect model</text><text class="b r" y="2096.5"><tspan x="357">1102</tspan><tspan x="488">1093</tspan><tspan x="841">2.98</tspan><tspan x="961">[2.20;  4.02]</tspan><tspan x="1068">25.9%</tspan><tspan x="1164">.</tspan></text>
<text class="b" x="9.6" y="2121">Random effects model</text><text class="b r" y="2121"><tspan x="841">2.96</tspan><tspan x="961">[2.19;  4.00]</tspan><tspan x="1068">.</tspan><tspan x="1164">26.9%</tspan></text>
<text class="s" x="9.6" y="2144">Heterogeneity: <tspan font-style="italic">I</tspan><tspan dy="-7" font-size="11">2</tspan><tspan dy="7"> = 0%, </tspan><tspan font-style="italic">τ</tspan><tspan dy="-7" font-size="11">2</tspan><tspan dy="7"> = 0, </tspan><tspan font-style="italic">p</tspan> = 0.4742</text>
<text class="b" x="9.6" y="2193">I+I</text>
<text x="9.6" y="2217.5">HIMALAYA−STRIDE</text><text class="r" y="2217.5"><tspan x="301">79</tspan><tspan x="357">393</tspan><tspan x="432">20</tspan><tspan x="488">389</tspan><tspan x="841">4.64</tspan><tspan x="961">[2.78;  7.75]</tspan><tspan x="1068">7.7%</tspan><tspan x="1164">9.1%</tspan></text>
<text x="9.6" y="2242">CheckMate 9DW</text><text class="r" y="2242"><tspan x="301">121</tspan><tspan x="357">335</tspan><tspan x="432">44</tspan><tspan x="488">333</tspan><tspan x="841">3.71</tspan><tspan x="961">[2.52;  5.47]</tspan><tspan x="1068">13.4%</tspan><tspan x="1164">10.7%</tspan></text>
<text class="b" x="9.6" y="2266">Common effect model</text><text class="b r" y="2266"><tspan x="357">728</tspan><tspan x="488">722</tspan><tspan x="841">4.05</tspan><tspan x="961">[2.97;  5.52]</tspan><tspan x="1068">21.1%</tspan><tspan x="1164">.</tspan></text>
<text class="b" x="9.6" y="2290">Random effects model</text><text class="b r" y="2290"><tspan x="841">4.03</tspan><tspan x="961">[2.96;  5.49]</tspan><tspan x="1068">.</tspan><tspan x="1164">19.8%</tspan></text>
<text class="s" x="9.6" y="2314">Heterogeneity: <tspan font-style="italic">I</tspan><tspan dy="-7" font-size="11">2</tspan><tspan dy="7"> = 0%, </tspan><tspan font-style="italic">τ</tspan><tspan dy="-7" font-size="11">2</tspan><tspan dy="7"> = 0, </tspan><tspan font-style="italic">p</tspan> = 0.4966</text>
<text class="b" x="9.6" y="2362.5">Common effect model</text><text class="b r" y="2362.5"><tspan x="357">4011</tspan><tspan x="488">3313</tspan><tspan x="841">3.43</tspan><tspan x="961">[2.95;  3.99]</tspan><tspan x="1068">100.0%</tspan><tspan x="1164">.</tspan></text>
<text class="b" x="9.6" y="2387">Random effects model</text><text class="b r" y="2387"><tspan x="841">3.69</tspan><tspan x="961">[2.83;  4.80]</tspan><tspan x="1068">.</tspan><tspan x="1164">100.0%</tspan></text>
<text class="m" y="2435"><tspan x="541.5">0.1</tspan><tspan x="610.4">0.5</tspan><tspan x="640">1</tspan><tspan x="669.6">2</tspan><tspan x="738.5">10</tspan></text>
<text class="s" x="9.6" y="2435">Heterogeneity: <tspan font-style="italic">I</tspan><tspan dy="-7" font-size="11">2</tspan><tspan dy="7"> = 67.1%, </tspan><tspan font-style="italic">τ</tspan><tspan dy="-7" font-size="11">2</tspan><tspan dy="7"> = 0.1322, </tspan><tspan font-style="italic">p</tspan> = 0.0004</text>
<text class="s" x="9.6" y="2458.6">Test for subgroup differences (common effect): <tspan font-style="italic">χ</tspan><tspan dy="-7" font-size="11">2</tspan><tspan dx="-7" dy="13" font-size="11">2</tspan><tspan dy="-6"> = 1.98, df = 2 (</tspan><tspan font-style="italic">p</tspan> = 0.3718)</text>
<text class="s" x="9.6" y="2482.5">Test for subgroup differences (random effects): <tspan font-style="italic">χ</tspan><tspan dy="-7" font-size="11">2</tspan><tspan dx="-7" dy="13" font-size="11">2</tspan><tspan dy="-6"> = 2.46, df = 2 (</tspan><tspan font-style="italic">p</tspan> = 0.2923)</text>

<!-- ================= F ================= -->
<text class="L" x="1334" y="1599">F</text>
<text class="b r" y="1627"><tspan x="1688.5">Experimental</tspan><tspan x="1821">Control</tspan><tspan x="2390">Weight</tspan><tspan x="2488">Weight</tspan></text>
<text class="b" x="1336" y="1652">Study</text>
<text class="b r" y="1652"><tspan x="1632">Events</tspan><tspan x="1688.5">Total</tspan><tspan x="1765">Events</tspan><tspan x="1821">Total</tspan><tspan x="2168">OR</tspan><tspan x="2283">95%−CI</tspan><tspan x="2390">(common)</tspan><tspan x="2488">(random)</tspan></text>
<text class="b m" x="1975" y="1652">Odds Ratio for DCR</text>
<text class="b" x="1336" y="1699">T+I</text>
<text x="1336" y="1725.6">CARES−310</text><text class="r" y="1725.6"><tspan x="1632">213</tspan><tspan x="1688.5">272</tspan><tspan x="1765">146</tspan><tspan x="1821">271</tspan><tspan x="2168">3.09</tspan><tspan x="2283">[2.13; 4.49]</tspan><tspan x="2390">4.4%</tspan><tspan x="2488">8.3%</tspan></text>
<text x="1336" y="1750">COSMIC−312</text><text class="r" y="1750"><tspan x="1632">337</tspan><tspan x="1688.5">432</tspan><tspan x="1765">140</tspan><tspan x="1821">217</tspan><tspan x="2168">1.95</tspan><tspan x="2283">[1.36; 2.79]</tspan><tspan x="2390">5.6%</tspan><tspan x="2488">8.4%</tspan></text>
<text x="1336" y="1774.4">IMbrave150</text><text class="r" y="1774.4"><tspan x="1632">241</tspan><tspan x="1688.5">326</tspan><tspan x="1765">87</tspan><tspan x="1821">159</tspan><tspan x="2168">2.35</tspan><tspan x="2283">[1.58; 3.49]</tspan><tspan x="2390">4.2%</tspan><tspan x="2488">8.1%</tspan></text>
<text x="1336" y="1798.8">LEAP−002</text><text class="r" y="1798.8"><tspan x="1632">321</tspan><tspan x="1688.5">395</tspan><tspan x="1765">313</tspan><tspan x="1821">399</tspan><tspan x="2168">1.19</tspan><tspan x="2283">[0.84; 1.69]</tspan><tspan x="2390">8.0%</tspan><tspan x="2488">8.4%</tspan></text>
<text x="1336" y="1823.2">ORIENT−32</text><text class="r" y="1823.2"><tspan x="1632">264</tspan><tspan x="1688.5">365</tspan><tspan x="1765">110</tspan><tspan x="1821">172</tspan><tspan x="2168">1.47</tspan><tspan x="2283">[1.00; 2.17]</tspan><tspan x="2390">5.7%</tspan><tspan x="2488">8.2%</tspan></text>
<text x="1336" y="1847.6">HEPATORCH</text><text class="r" y="1847.6"><tspan x="1632">115</tspan><tspan x="1688.5">162</tspan><tspan x="1765">107</tspan><tspan x="1821">164</tspan><tspan x="2168">1.30</tspan><tspan x="2283">[0.82; 2.08]</tspan><tspan x="2390">4.2%</tspan><tspan x="2488">7.6%</tspan></text>
<text x="1336" y="1872">SCT−I10A−C301</text><text class="r" y="1872"><tspan x="1632">180</tspan><tspan x="1688.5">229</tspan><tspan x="1765">70</tspan><tspan x="1821">116</tspan><tspan x="2168">2.41</tspan><tspan x="2283">[1.48; 3.93]</tspan><tspan x="2390">2.7%</tspan><tspan x="2488">7.5%</tspan></text>
<text class="b" x="1336" y="1897">Common effect model</text><text class="b r" y="1897"><tspan x="1688.5">2181</tspan><tspan x="1821">1498</tspan><tspan x="2168">1.85</tspan><tspan x="2283">[1.59; 2.14]</tspan><tspan x="2390">34.9%</tspan><tspan x="2488">.</tspan></text>
<text class="b" x="1336" y="1921">Random effects model</text><text class="b r" y="1921"><tspan x="2168">1.86</tspan><tspan x="2283">[1.42; 2.43]</tspan><tspan x="2390">.</tspan><tspan x="2488">56.5%</tspan></text>
<text class="s" x="1336" y="1945">Heterogeneity: <tspan font-style="italic">I</tspan><tspan dy="-7" font-size="11">2</tspan><tspan dy="7"> = 69.1%, </tspan><tspan font-style="italic">τ</tspan><tspan dy="-7" font-size="11">2</tspan><tspan dy="7"> = 0.0887, </tspan><tspan font-style="italic">p</tspan> = 0.0035</text>
<text class="b" x="1336" y="1994">I</text>
<text x="1336" y="2019.6">CheckMate 459</text><text class="r" y="2019.6"><tspan x="1632">203</tspan><tspan x="1688.5">371</tspan><tspan x="1765">215</tspan><tspan x="1821">372</tspan><tspan x="2168">0.88</tspan><tspan x="2283">[0.66; 1.18]</tspan><tspan x="2390">13.4%</tspan><tspan x="2488">8.8%</tspan></text>
<text x="1336" y="2044">HIMALAYA−Durvalumab</text><text class="r" y="2044"><tspan x="1632">213</tspan><tspan x="1688.5">389</tspan><tspan x="1765">236</tspan><tspan x="1821">389</tspan><tspan x="2168">0.78</tspan><tspan x="2283">[0.59; 1.04]</tspan><tspan x="2390">14.7%</tspan><tspan x="2488">8.8%</tspan></text>
<text x="1336" y="2068.5">RATIONALE−301</text><text class="r" y="2068.5"><tspan x="1632">151</tspan><tspan x="1688.5">342</tspan><tspan x="1765">167</tspan><tspan x="1821">332</tspan><tspan x="2168">0.78</tspan><tspan x="2283">[0.58; 1.06]</tspan><tspan x="2390">13.0%</tspan><tspan x="2488">8.7%</tspan></text>
<text class="b" x="1336" y="2093">Common effect model</text><text class="b r" y="2093"><tspan x="1688.5">1102</tspan><tspan x="1821">1093</tspan><tspan x="2168">0.82</tspan><tspan x="2283">[0.69; 0.97]</tspan><tspan x="2390">41.1%</tspan><tspan x="2488">.</tspan></text>
<text class="b" x="1336" y="2117">Random effects model</text><text class="b r" y="2117"><tspan x="2168">0.82</tspan><tspan x="2283">[0.69; 0.97]</tspan><tspan x="2390">.</tspan><tspan x="2488">26.2%</tspan></text>
<text class="s" x="1336" y="2141">Heterogeneity: <tspan font-style="italic">I</tspan><tspan dy="-7" font-size="11">2</tspan><tspan dy="7"> = 0%, </tspan><tspan font-style="italic">τ</tspan><tspan dy="-7" font-size="11">2</tspan><tspan dy="7"> = 0, </tspan><tspan font-style="italic">p</tspan> = 0.8058</text>
<text class="b" x="1336" y="2190">I+I</text>
<text x="1336" y="2215">HIMALAYA−STRIDE</text><text class="r" y="2215"><tspan x="1632">236</tspan><tspan x="1688.5">393</tspan><tspan x="1765">236</tspan><tspan x="1821">389</tspan><tspan x="2168">0.97</tspan><tspan x="2283">[0.73; 1.30]</tspan><tspan x="2390">13.0%</tspan><tspan x="2488">8.8%</tspan></text>
<text x="1336" y="2239.6">CheckMate 9DW</text><text class="r" y="2239.6"><tspan x="1632">228</tspan><tspan x="1688.5">335</tspan><tspan x="1765">250</tspan><tspan x="1821">333</tspan><tspan x="2168">0.71</tspan><tspan x="2283">[0.50; 0.99]</tspan><tspan x="2390">11.0%</tspan><tspan x="2488">8.5%</tspan></text>
<text class="b" x="1336" y="2264">Common effect model</text><text class="b r" y="2264"><tspan x="1688.5">728</tspan><tspan x="1821">722</tspan><tspan x="2168">0.85</tspan><tspan x="2283">[0.69; 1.06]</tspan><tspan x="2390">24.0%</tspan><tspan x="2488">.</tspan></text>
<text class="b" x="1336" y="2289">Random effects model</text><text class="b r" y="2289"><tspan x="2168">0.84</tspan><tspan x="2283">[0.62; 1.15]</tspan><tspan x="2390">.</tspan><tspan x="2488">17.3%</tspan></text>
<text class="s" x="1336" y="2312.6">Heterogeneity: <tspan font-style="italic">I</tspan><tspan dy="-7" font-size="11">2</tspan><tspan dy="7"> = 50.1%, </tspan><tspan font-style="italic">τ</tspan><tspan dy="-7" font-size="11">2</tspan><tspan dy="7"> = 0.0257, </tspan><tspan font-style="italic">p</tspan> = 0.1568</text>
<text class="b" x="1336" y="2362">Common effect model</text><text class="b r" y="2362"><tspan x="1688.5">4011</tspan><tspan x="1821">3313</tspan><tspan x="2168">1.18</tspan><tspan x="2283">[1.07; 1.31]</tspan><tspan x="2390">100.0%</tspan><tspan x="2488">.</tspan></text>
<text class="b" x="1336" y="2386">Random effects model</text><text class="b r" y="2386"><tspan x="2168">1.30</tspan><tspan x="2283">[0.98; 1.73]</tspan><tspan x="2390">.</tspan><tspan x="2488">100.0%</tspan></text>
<text class="m" y="2436"><tspan x="1908.4">0.5</tspan><tspan x="1974.6">1</tspan><tspan x="2040.8">2</tspan></text>
<text class="s" x="1336" y="2435">Heterogeneity: <tspan font-style="italic">I</tspan><tspan dy="-7" font-size="11">2</tspan><tspan dy="7"> = 86.8%, </tspan><tspan font-style="italic">τ</tspan><tspan dy="-7" font-size="11">2</tspan><tspan dy="7"> = 0.2181, </tspan><tspan font-style="italic">p</tspan> &lt; 0.0001</text>
<text class="s" x="1336" y="2458.6">Test for subgroup differences (common effect): <tspan font-style="italic">χ</tspan><tspan dy="-7" font-size="11">2</tspan><tspan dx="-7" dy="13" font-size="11">2</tspan><tspan dy="-6"> = 61.96, df = 2 (</tspan><tspan font-style="italic">p</tspan> &lt; 0.0001)</text>
<text class="s" x="1336" y="2483">Test for subgroup differences (random effects): <tspan font-style="italic">χ</tspan><tspan dy="-7" font-size="11">2</tspan><tspan dx="-7" dy="13" font-size="11">2</tspan><tspan dy="-6"> = 27.39, df = 2 (</tspan><tspan font-style="italic">p</tspan> &lt; 0.0001)</text>
</svg>
<script>
(function(){
var NS="http://www.w3.org/2000/svg",G=document.getElementById("gfx");
function el(t,a){var e=document.createElementNS(NS,t);for(var k in a)e.setAttribute(k,a[k]);G.appendChild(e);return e;}
var ORR={CARES:[.7672,.5185,1.0154,5.6],CM459:[.3838,.1703,.5955,10.5],COSMIC:[.4886,.1875,.7903,5.5],HIMD:[.5763,.3502,.8028,7.9],HIMS:[.6665,.4440,.8893,7.7],IMB:[.5211,.2833,.7574,8.1],LEAP:[.2201,.0719,.3674,24.5],ORI:[.7853,.4393,1.1316,3.6],RAT:[.4654,.2201,.7093,7.5],CM9:[.5694,.4014,.7380,13.4],HEP:[.7177,.3997,1.0350,3.5],SCT:[1.0338,.6263,1.4411,2.1]};
var DCR={CARES:[.4900,.3284,.6522,4.4],CM459:[-.0555,-.1805,.0719,13.4],COSMIC:[.2900,.1335,.4456,5.6],HIMD:[-.1079,-.2291,.0170,14.7],HIMS:[-.0132,-.1367,.1139,13.0],IMB:[.3711,.1987,.5428,4.2],LEAP:[.0755,-.0757,.2279,8.0],ORI:[.1673,0,.3365,5.7],RAT:[-.1079,-.2366,.0253,13.0],CM9:[-.1487,-.3010,-.0044,11.0],HEP:[.1139,-.0862,.3181,4.2],SCT:[.3820,.1703,.5944,2.7]};
var tO=[-1,-.301,0,.301,1],tD=[-.301,0,.301];
var oA=[[467,.5353,.4698,.6010],[491,.5670,.4518,.6812]];
var P=[
{x0:639,k:99.5,top:137,ay:502.5,t:tO,cm:.5353,rm:.5670,D:ORR,wm:24.5,
 r:[["CARES",149],["CM459",173.4],["COSMIC",197.8],["HIMD",222.2],["HIMS",246.6],["IMB",271],["LEAP",295.4],["ORI",319.8],["RAT",344.2],["CM9",368.6],["HEP",393],["SCT",417.4]],d:oA},
{x0:1974.6,k:220,top:130,ay:498,t:tD,cm:.0719,rm:.1139,D:DCR,wm:14.7,
 r:[["CARES",143.6],["CM459",168.1],["COSMIC",192.5],["HIMD",217],["HIMS",241.5],["IMB",266],["LEAP",290.4],["ORI",314.9],["RAT",339.4],["CM9",363.8],["HEP",388.3],["SCT",412.8]],
 d:[[462,.0719,.0294,.1173],[487,.1139,-.0088,.2380]]},
{x0:635,k:99,top:769,ay:1352.5,t:tO,cm:.5353,rm:.5670,D:ORR,wm:24.5,
 r:[["CARES",805],["COSMIC",829.4],["HIMS",853.7],["IMB",878],["LEAP",902.4],["ORI",926.8],["CM9",951.1],["HEP",975.5],["SCT",999.8],["CM459",1146.5],["HIMD",1170.5],["RAT",1195]],
 d:[[1025,.5551,.4800,.6304],[1049,.6085,.4579,.7582],[1219,.4742,.3424,.6042],[1243.5,.4713,.3404,.6021],[1316,.5353,.4698,.6010],[1340,.5670,.4518,.6812]]},
{x0:1978,k:221,top:757.5,ay:1352.5,t:tD,cm:.0719,rm:.1139,D:DCR,wm:14.7,
 r:[["CARES",795.5],["COSMIC",820.1],["HIMS",844.8],["IMB",869.4],["LEAP",894],["ORI",918.7],["CM9",943.3],["HEP",968],["SCT",992.6],["CM459",1142.5],["HIMD",1167],["RAT",1191.5]],
 d:[[1018.5,.1584,.1072,.2122],[1043.5,.1875,.0492,.3263],[1216.5,-.0862,-.1612,-.0132],[1241.5,-.0862,-.1612,-.0132],[1316,.0719,.0294,.1173],[1340,.1139,-.0088,.2380]]},
{x0:640,k:98.5,top:1690,ay:2392,t:tO,cm:.5353,rm:.5670,D:ORR,wm:24.5,
 r:[["CARES",1727],["COSMIC",1751.2],["IMB",1775.4],["LEAP",1799.6],["ORI",1823.8],["HEP",1848],["SCT",1872.2],["CM459",2017],["HIMD",2041],["RAT",2066],["HIMS",2210.5],["CM9",2235]],
 d:[[1896,.5328,.4425,.6232],[1920,.6160,.4150,.8169],[2089.5,.4742,.3424,.6042],[2114,.4713,.3404,.6021],[2259,.6075,.4728,.7419],[2283,.6053,.4713,.7396],[2355.5,.5353,.4698,.6010],[2380,.5670,.4518,.6812]]},
{x0:1974.6,k:220,top:1681,ay:2392,t:tD,cm:.0719,rm:.1139,D:DCR,wm:14.7,
 r:[["CARES",1718.6],["COSMIC",1743],["IMB",1767.4],["LEAP",1791.8],["ORI",1816.2],["HEP",1840.6],["SCT",1865],["CM459",2012.6],["HIMD",2037],["RAT",2061.5],["HIMS",2208],["CM9",2232.6]],
 d:[[1890,.2672,.2014,.3304],[1914,.2695,.1523,.3856],[2086,-.0862,-.1612,-.0132],[2110,-.0862,-.1612,-.0132],[2257,-.0706,-.1612,.0253],[2282,-.0757,-.2076,.0607],[2355,.0719,.0294,.1173],[2379,.1139,-.0088,.2380]]}
];
P.forEach(function(p){
 function X(v){return p.x0+p.k*v;}
 el("line",{x1:p.x0,x2:p.x0,y1:p.top,y2:p.ay,stroke:"#000","stroke-width":1.6});
 el("line",{x1:X(p.cm),x2:X(p.cm),y1:p.top,y2:p.ay-3,stroke:"#000","stroke-width":1.1,"stroke-dasharray":"5,4"});
 el("line",{x1:X(p.rm),x2:X(p.rm),y1:p.top,y2:p.ay-3,stroke:"#000","stroke-width":1.1,"stroke-dasharray":"1.5,3"});
 p.r.forEach(function(r){
  var d=p.D[r[0]],y=r[1],s=20*Math.sqrt(d[3]/p.wm),cx=X(d[0]);
  el("rect",{x:cx-s/2,y:y-s/2,width:s,height:s,fill:"#bebebe"});
  el("line",{x1:X(d[1]),x2:X(d[2]),y1:y,y2:y,stroke:"#000","stroke-width":1.6});
  el("line",{x1:cx,x2:cx,y1:y-4.5,y2:y+4.5,stroke:"#000","stroke-width":1.2});
 });
 p.d.forEach(function(d){
  var y=d[0],h=8;
  el("polygon",{points:X(d[2])+","+y+" "+X(d[1])+","+(y-h)+" "+X(d[3])+","+y+" "+X(d[1])+","+(y+h),fill:"#bebebe",stroke:"#333","stroke-width":1.3});
 });
 var a0=X(p.t[0]),a1=X(p.t[p.t.length-1]);
 el("line",{x1:a0,x2:a1,y1:p.ay,y2:p.ay,stroke:"#000","stroke-width":1.6});
 p.t.forEach(function(t){el("line",{x1:X(t),x2:X(t),y1:p.ay,y2:p.ay+11,stroke:"#000","stroke-width":1.4});});
});
})();
</script>
</body></html>
